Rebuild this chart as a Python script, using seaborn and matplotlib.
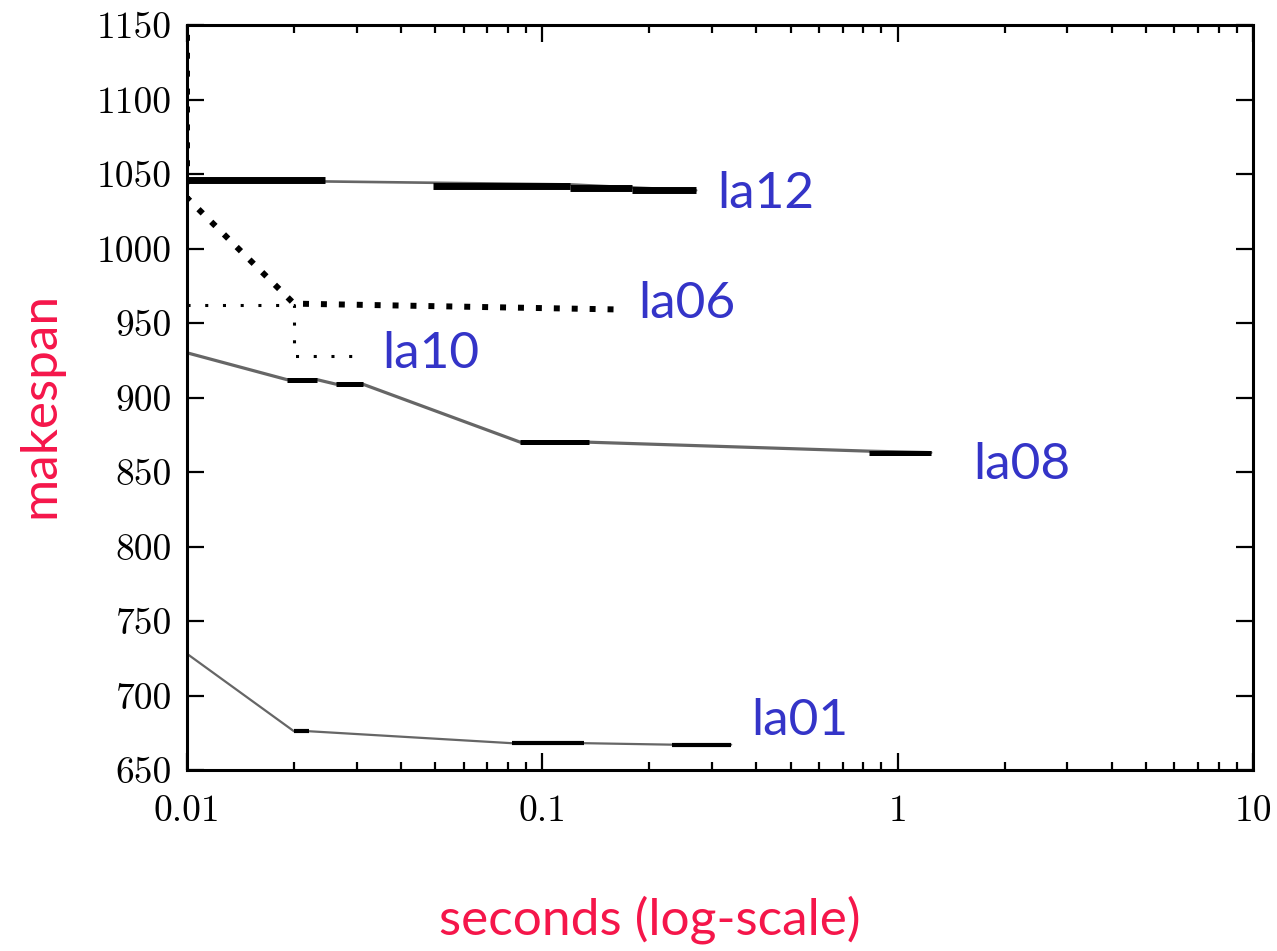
import numpy as np
import pandas as pd
import matplotlib
matplotlib.use("Agg")
import matplotlib.pyplot as plt
import seaborn as sns
from matplotlib.ticker import LogLocator, NullFormatter, NullLocator

# ---- data: makespan of the best schedule found so far vs. run time ----
# grey connecting lines (time in seconds, makespan)
la01_t = [0.01, 0.020, 0.0221, 0.0819, 0.131, 0.232, 0.340]
la01_y = [728, 676, 676, 668, 668, 667, 667]
la08_t = [0.01, 0.0191, 0.0232, 0.0262, 0.0312, 0.0867, 0.1355, 0.828, 1.24]
la08_y = [930, 912, 912, 909, 909, 870, 870, 864, 863]
la12_t = [0.01, 0.0245, 0.120, 0.179, 0.271]
la12_y = [1046, 1045, 1043, 1041, 1039]

# periods during which a makespan stayed the current best (start, end, value)
la01_seg_t0 = [0.020, 0.0819, 0.232]
la01_seg_t1 = [0.0221, 0.131, 0.340]
la01_seg_y = [676, 668, 667]
la08_seg_t0 = [0.0191, 0.0262, 0.0867, 0.828]
la08_seg_t1 = [0.0232, 0.0312, 0.1355, 1.24]
la08_seg_y = [912, 909, 870, 863]
la12_seg_t0 = [0.01, 0.0491, 0.120, 0.179]
la12_seg_t1 = [0.0245, 0.120, 0.179, 0.271]
la12_seg_y = [1046, 1042, 1040.5, 1039]

# dotted traces
la06_t = [0.01, 0.01, 0.02, 0.171]
la06_y = [1200, 1034, 963, 959]
la10_t = [0.01, 0.02, 0.02, 0.0305]
la10_y = [962, 962, 928, 928]

# instance names and where they are written (time, makespan)
label_names = ["la12", "la06", "la10", "la08", "la01"]
label_t = [0.311, 0.186, 0.0355, 1.63, 0.387]
label_y = [1027, 953.5, 920, 845, 673.5]

x_ticks = [0.01, 0.1, 1, 10]
x_tick_labels = ["0.01", "0.1", "1", "10"]
y_ticks = list(range(650, 1151, 50))

# ---- style ----
sns.set_theme(style="ticks")
plt.rcParams["font.family"] = ["cmr10", "DejaVu Serif"]
plt.rcParams["axes.formatter.use_mathtext"] = True

W, H = 1277, 951
fig = plt.figure(figsize=(W / 100, H / 100), dpi=100)
ax = fig.add_axes([187 / W, 181 / H, 1066 / W, 745 / H])
ax.set_xscale("log")

grey = "#666666"
blue = "#3434c8"
red = "#f5164a"


def trace(t, y, **kws):
    df = pd.DataFrame({"t": t, "makespan": y})
    sns.lineplot(data=df, x="t", y="makespan", sort=False, estimator=None,
                 ax=ax, legend=False, **kws)


trace(la01_t, la01_y, color=grey, lw=1.6)
trace(la08_t, la08_y, color=grey, lw=2.3)
trace(la12_t, la12_y, color=grey, lw=1.9)

ax.hlines(la01_seg_y, la01_seg_t0, la01_seg_t1, colors="black", lw=3.0)
ax.hlines(la08_seg_y, la08_seg_t0, la08_seg_t1, colors="black", lw=3.6)
ax.hlines(la12_seg_y, la12_seg_t0, la12_seg_t1, colors="black", lw=5.0)

trace(la06_t, la06_y, color="black", lw=4.3, linestyle=(0, (1, 2)))
trace(la10_t, la10_y, color="black", lw=2.2, linestyle=(0, (1, 4.8)))

for name, t, y in zip(label_names, label_t, label_y):
    ax.text(t, y, name, color=blue, fontsize=37, family=["Lato", "DejaVu Sans"],
            ha="left", va="baseline")

# ---- axes ----
ax.set_xlim(0.01, 10)
ax.set_ylim(650, 1150)
ax.set_xticks(x_ticks)
ax.set_xticklabels(x_tick_labels)
ax.xaxis.set_minor_locator(LogLocator(base=10, subs=np.arange(2, 10)))
ax.xaxis.set_minor_formatter(NullFormatter())
ax.set_yticks(y_ticks)
ax.set_yticklabels([str(v) for v in y_ticks])
ax.yaxis.set_minor_locator(NullLocator())

ax.tick_params(which="both", direction="in", top=True, right=True,
               color="black", width=1.6)
ax.tick_params(which="major", length=12, labelsize=27, labelcolor="black")
ax.tick_params(axis="x", which="major", pad=18)
ax.tick_params(axis="y", which="major", pad=11)
ax.tick_params(which="minor", length=6)

for side in ["left", "right", "top", "bottom"]:
    ax.spines[side].set_color("black")
    ax.spines[side].set_linewidth(2.2)

ax.set_xlabel("")
ax.set_ylabel("")
fig.text(650 / W, 1 - 935 / H, "seconds (log-scale)", color=red, fontsize=37,
         family=["Lato", "DejaVu Sans"], ha="center", va="baseline")
fig.text(40 / W, 1 - 405 / H, "makespan", color=red, fontsize=37,
         family=["Lato", "DejaVu Sans"], rotation=90, ha="center", va="center")

fig.savefig("out.png", dpi=100)
